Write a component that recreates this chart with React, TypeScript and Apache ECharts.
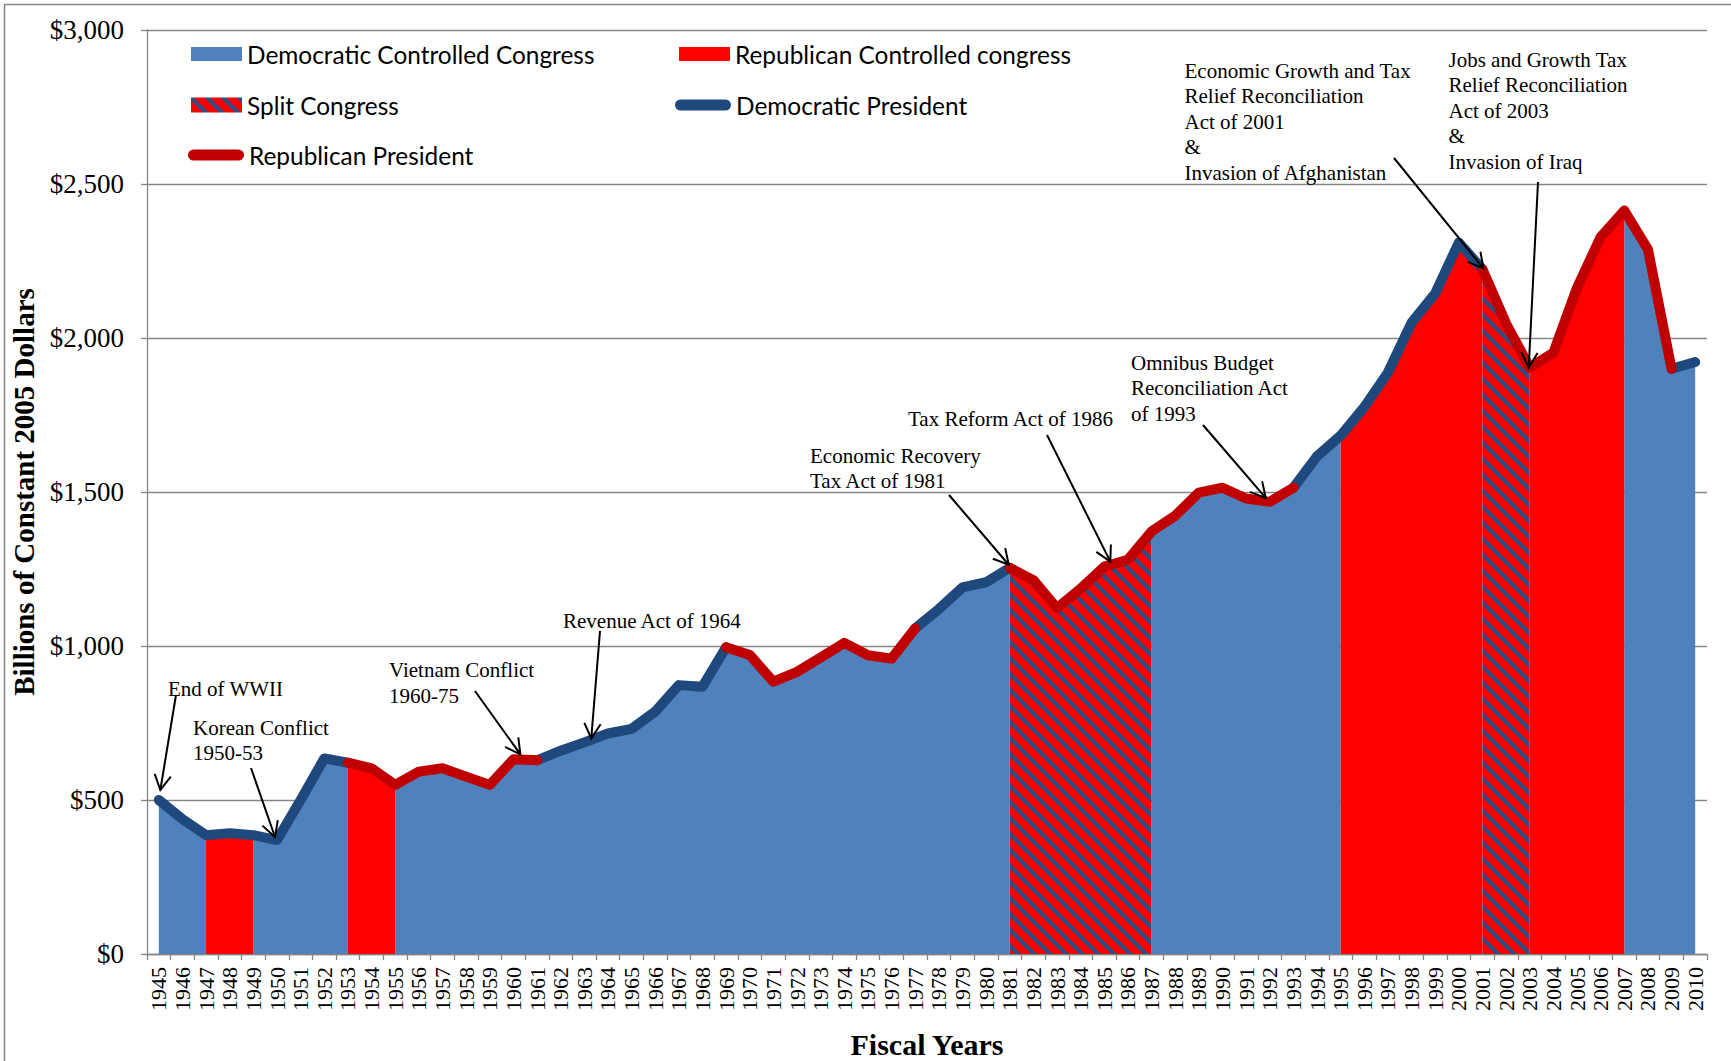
import React, { useEffect, useRef } from "react";
import * as echarts from "echarts";

// ---------------- DATA ----------------
const years: string[] = [
  "1945", "1946", "1947", "1948", "1949", "1950", "1951", "1952", "1953", "1954",
  "1955", "1956", "1957", "1958", "1959", "1960", "1961", "1962", "1963", "1964",
  "1965", "1966", "1967", "1968", "1969", "1970", "1971", "1972", "1973", "1974",
  "1975", "1976", "1977", "1978", "1979", "1980", "1981", "1982", "1983", "1984",
  "1985", "1986", "1987", "1988", "1989", "1990", "1991", "1992", "1993", "1994",
  "1995", "1996", "1997", "1998", "1999", "2000", "2001", "2002", "2003", "2004",
  "2005", "2006", "2007", "2008", "2009", "2010",
];

// Billions of constant 2005 dollars
const outlays: number[] = [
  500, 438, 386, 392, 386, 370, 500, 635, 621, 603,
  549, 592, 603, 576, 549, 632, 629, 660, 687, 716,
  731, 787, 873, 868, 996, 971, 884, 916, 963, 1010,
  970, 959, 1057, 1120, 1190, 1207, 1254, 1214, 1123, 1186,
  1258, 1280, 1372, 1423, 1498, 1514, 1479, 1468, 1514, 1616,
  1683, 1776, 1888, 2050, 2145, 2310, 2223, 2047, 1904, 1952,
  2163, 2328, 2414, 2288, 1900, 1922,
];

// Control periods [from, to] (inclusive fiscal years)
const demCongress: [number, number][] = [[1945, 1947], [1949, 1953], [1955, 1981], [1987, 1995], [2007, 2010]];
const repCongress: [number, number][] = [[1947, 1949], [1953, 1955], [1995, 2001], [2003, 2007]];
const splitCongress: [number, number][] = [[1981, 1987], [2001, 2003]];
const demPresident: [number, number][] = [[1945, 1953], [1961, 1969], [1977, 1981], [1993, 2001], [2009, 2010]];
const repPresident: [number, number][] = [[1953, 1961], [1969, 1977], [1981, 1993], [2001, 2009]];

const seriesNames = [
  "Democratic Controlled Congress",
  "Republican Controlled congress",
  "Split Congress",
  "Democratic President",
  "Republican President",
];

// Annotations: text lines, text left/first-line-centre, arrow tail, target year, tip offset
const annotations = [
  { lines: ["End of WWII"], x: 168, cy: 689, tail: [176, 695], year: "1945", off: [1.5, -10] },
  { lines: ["Korean Conflict", "1950-53"], x: 193, cy: 728, tail: [251, 768], year: "1950", off: [-2, -3] },
  { lines: ["Vietnam Conflict", "1960-75"], x: 389, cy: 670.5, tail: [475, 691], year: "1960", off: [7, -5] },
  { lines: ["Revenue Act of 1964"], x: 563, cy: 621.5, tail: [600, 631], year: "1963", off: [7, -4] },
  { lines: ["Economic Recovery", "Tax Act of 1981"], x: 810, cy: 456, tail: [949, 495], year: "1981", off: [-1, -3] },
  { lines: ["Tax Reform Act of 1986"], x: 908, cy: 419, tail: [1047, 435], year: "1985", off: [6, -5] },
  { lines: ["Omnibus Budget", "Reconciliation Act", "of 1993"], x: 1131, cy: 363, tail: [1203, 425], year: "1992", off: [-4, -4] },
  {
    lines: ["Economic Growth and Tax", "Relief Reconciliation", "Act of 2001", "&", "Invasion of Afghanistan"],
    x: 1184.5, cy: 71, tail: [1394, 158], year: "2001", off: [1, -1],
  },
  {
    lines: ["Jobs and Growth Tax", "Relief Reconciliation", "Act of 2003", "&", "Invasion of Iraq"],
    x: 1448.5, cy: 60, tail: [1538, 182], year: "2003", off: [-1, 0],
  },
];

// ---------------- HELPERS ----------------
function inPeriods(year: string, periods: [number, number][]) {
  const y = Number(year);
  return periods.some(([a, b]) => y >= a && y <= b);
}
function periodData(periods: [number, number][]) {
  return years.map((y, i) => (inPeriods(y, periods) ? outlays[i] : null));
}

const SERIF = '"Liberation Serif", "Times New Roman", serif';
const SANS = 'Lato, "Noto Sans", sans-serif';
const GRID_GRAY = "#868686";
const AREA_BLUE = "#4F81BD";
const AREA_RED = "#FF0000";
const LINE_BLUE = "#1F497D";
const LINE_RED = "#C00000";
const HATCH_BLUE = "#2E4C80";

function makeHatch() {
  const s = 16;
  const c = document.createElement("canvas");
  c.width = s;
  c.height = s;
  const ctx = c.getContext("2d")!;
  ctx.fillStyle = AREA_RED;
  ctx.fillRect(0, 0, s, s);
  ctx.strokeStyle = HATCH_BLUE;
  ctx.lineWidth = 4.2;
  for (const o of [-s, 0, s]) {
    ctx.beginPath();
    ctx.moveTo(o - 4, -4);
    ctx.lineTo(o + s + 4, s + 4);
    ctx.stroke();
  }
  return { image: c.toDataURL(), repeat: "repeat", imageWidth: s, imageHeight: s } as any;
}

function arrowEls(tail: number[], tip: number[]) {
  const dx = tip[0] - tail[0];
  const dy = tip[1] - tail[1];
  const len = Math.hypot(dx, dy);
  const bx = -dx / len;
  const by = -dy / len;
  const L = 17;
  const a = 0.5;
  const w1 = [tip[0] + L * (bx * Math.cos(a) - by * Math.sin(a)), tip[1] + L * (bx * Math.sin(a) + by * Math.cos(a))];
  const w2 = [tip[0] + L * (bx * Math.cos(-a) - by * Math.sin(-a)), tip[1] + L * (bx * Math.sin(-a) + by * Math.cos(-a))];
  const st = { stroke: "#000", lineWidth: 2, fill: "none" };
  return [
    { type: "line", silent: true, z: 100, shape: { x1: tail[0], y1: tail[1], x2: tip[0], y2: tip[1] }, style: st },
    { type: "polyline", silent: true, z: 100, shape: { points: [w1, tip, w2] }, style: st },
  ];
}

export default function App() {
  const ref = useRef<HTMLDivElement>(null);

  useEffect(() => {
    const chart = echarts.init(ref.current!, null, { renderer: "svg" });
    const hatch = makeHatch();

    const legendText = { fontFamily: SANS, fontSize: 24.4, color: "#000" };
    const capsule = "path://M5.5,0H50.5A5.5,5.5,0,0,1,50.5,11H5.5A5.5,5.5,0,0,1,5.5,0Z";
    const legendBase = { orient: "horizontal", padding: 0, selectedMode: false, textStyle: legendText };

    const option: any = {
      animation: false,
      backgroundColor: "#fff",
      grid: { left: 147, right: 24, top: 30, bottom: 107, containLabel: false, outerBoundsMode: "none" },
      legend: [
        { ...legendBase, left: 191, top: 42, itemWidth: 51, itemHeight: 14,
          data: [{ name: seriesNames[0], icon: "rect", itemStyle: { color: AREA_BLUE, borderWidth: 0 } }] },
        { ...legendBase, left: 679, top: 42, itemWidth: 51, itemHeight: 14,
          data: [{ name: seriesNames[1], icon: "rect", itemStyle: { color: AREA_RED, borderWidth: 0 } }] },
        { ...legendBase, left: 191, top: 93, itemWidth: 51, itemHeight: 15,
          data: [{ name: seriesNames[2], icon: "rect", itemStyle: { color: hatch, borderWidth: 0 } }] },
        { ...legendBase, left: 675, top: 93, itemWidth: 56, itemHeight: 11,
          data: [{ name: seriesNames[3], icon: capsule, itemStyle: { color: LINE_BLUE, borderWidth: 0 } }] },
        { ...legendBase, left: 188, top: 143, itemWidth: 56, itemHeight: 11,
          data: [{ name: seriesNames[4], icon: capsule, itemStyle: { color: LINE_RED, borderWidth: 0 } }] },
      ],
      xAxis: {
        type: "category",
        data: years,
        boundaryGap: true,
        axisLine: { show: true, lineStyle: { color: GRID_GRAY, width: 1.3 } },
        axisTick: { show: true, length: 6, interval: 0, lineStyle: { color: GRID_GRAY, width: 1.3 } },
        axisLabel: { rotate: 90, interval: 0, fontFamily: SERIF, fontSize: 22, color: "#000", margin: 13 },
        splitLine: { show: false },
        name: "Fiscal Years",
        nameLocation: "middle",
        nameGap: 75,
        nameTextStyle: { fontFamily: SERIF, fontSize: 30, fontWeight: "bold", color: "#000" },
      },
      yAxis: {
        type: "value",
        min: 0,
        max: 3000,
        interval: 500,
        axisLine: { show: true, lineStyle: { color: GRID_GRAY, width: 1.3 } },
        axisTick: { show: true, length: 6, lineStyle: { color: GRID_GRAY, width: 1.3 } },
        splitLine: { show: true, lineStyle: { color: GRID_GRAY, width: 1.3 } },
        axisLabel: {
          fontFamily: SERIF,
          fontSize: 27,
          color: "#000",
          margin: 23,
          formatter: (v: number) => "$" + v.toLocaleString("en-US"),
        },
        name: "Billions of Constant 2005 Dollars",
        nameLocation: "middle",
        nameGap: 107,
        nameTextStyle: { fontFamily: SERIF, fontSize: 29, fontWeight: "bold", color: "#000" },
      },
      series: [
        {
          name: seriesNames[0], type: "line", data: periodData(demCongress), symbol: "none", z: 2, silent: true,
          itemStyle: { color: AREA_BLUE }, lineStyle: { width: 0, opacity: 0 }, areaStyle: { color: AREA_BLUE, opacity: 1 },
        },
        {
          name: seriesNames[1], type: "line", data: periodData(repCongress), symbol: "none", z: 2, silent: true,
          itemStyle: { color: AREA_RED }, lineStyle: { width: 0, opacity: 0 }, areaStyle: { color: AREA_RED, opacity: 1 },
        },
        {
          name: seriesNames[2], type: "line", data: periodData(splitCongress), symbol: "none", z: 2, silent: true,
          itemStyle: { color: AREA_RED }, lineStyle: { width: 0, opacity: 0 }, areaStyle: { color: hatch, opacity: 1 },
        },
        {
          name: seriesNames[3], type: "line", data: periodData(demPresident), symbol: "none", z: 3, silent: true,
          itemStyle: { color: LINE_BLUE }, lineStyle: { color: LINE_BLUE, width: 10, cap: "round", join: "round" },
        },
        {
          name: seriesNames[4], type: "line", data: periodData(repPresident), symbol: "none", z: 4, silent: true,
          itemStyle: { color: LINE_RED }, lineStyle: { color: LINE_RED, width: 10, cap: "round", join: "round" },
        },
      ],
    };

    chart.setOption(option);

    const graphics: any[] = [
      {
        type: "rect", silent: true, z: -10,
        shape: { x: 4.5, y: 4.5, width: 2000, height: 2000 },
        style: { fill: "none", stroke: GRID_GRAY, lineWidth: 1.5 },
      },
    ];
    const lh = 25.4;
    annotations.forEach((a) => {
      const idx = years.indexOf(a.year);
      const p = chart.convertToPixel({ xAxisIndex: 0, yAxisIndex: 0 }, [a.year, outlays[idx]]) as number[];
      const tip = [p[0] + a.off[0], p[1] + a.off[1]];
      graphics.push({
        type: "text", silent: true, z: 100, x: a.x, y: a.cy - lh / 2,
        style: {
          text: a.lines.join("\n"), fontFamily: SERIF, fontSize: 21, fill: "#000",
          lineHeight: lh, align: "left", verticalAlign: "top",
        },
      });
      graphics.push(...arrowEls(a.tail, tip));
    });
    chart.setOption({ graphic: graphics });

    return () => chart.dispose();
  }, []);

  return (
    <div
      ref={ref}
      style={{ position: "fixed", left: 0, top: 0, width: 1731, height: 1061 }}
    />
  );
}
